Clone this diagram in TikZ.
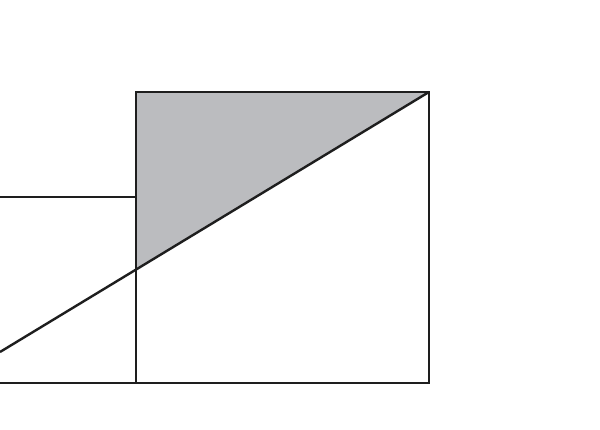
\documentclass[tikz,border=0pt]{standalone}
\usepackage{tikz}

\tikzset{every picture/.style={line width=2.4pt}}
\definecolor{shadegray}{RGB}{187,188,191}

\begin{document}
\begin{tikzpicture}[x=1pt,y=1pt,yscale=-1,xscale=1]
\useasboundingbox (0,0) rectangle (600,430);

%Coordinates
\coordinate (tl) at (136,92);
\coordinate (tr) at (429,92);
\coordinate (br) at (429,383);
\coordinate (bm) at (136,383);
\coordinate (bl) at (0,383);
\coordinate (lt) at (0,197);
\coordinate (mt) at (136,197);
\coordinate (dl) at (0,352);
\coordinate (cut) at (136,270.2);

%Shaded triangle
\fill [shadegray] (tl) -- (tr) -- (cut) -- cycle ;
%Big square
\draw [color={rgb, 255:red, 30; green, 30; blue, 30 }] (tl) -- (tr) -- (br) -- (bm) -- cycle ;
%Left rectangle
\draw [color={rgb, 255:red, 30; green, 30; blue, 30 }] (lt) -- (mt) ;
\draw [color={rgb, 255:red, 30; green, 30; blue, 30 }] (bl) -- (bm) ;
%Diagonal
\draw [color={rgb, 255:red, 30; green, 30; blue, 30 }] (dl) -- (tr) ;

\end{tikzpicture}
\end{document}
